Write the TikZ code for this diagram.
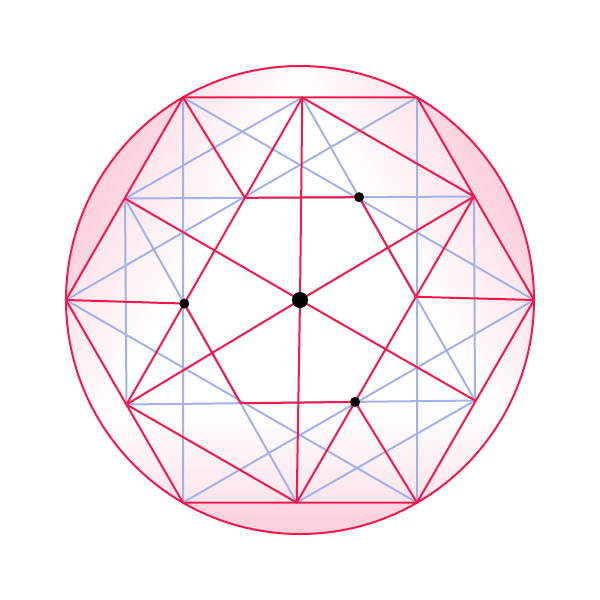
\documentclass[tikz,border=0pt]{standalone}
\definecolor{redc}{RGB}{245,25,75}
\definecolor{bluec}{RGB}{162,178,235}
\definecolor{pinkc}{RGB}{240,40,100}
\tikzset{
  redline/.style={draw=redc, line width=2pt, line cap=round, line join=round},
  blueline/.style={draw=bluec, line width=2pt, line cap=round},
  bigdot/.style={circle, fill=black, inner sep=0pt, minimum size=16pt},
  smalldot/.style={circle, fill=black, inner sep=0pt, minimum size=10pt},
  band/.style={fill=pinkc, opacity=0.0085},
  capfill/.style={fill=pinkc, opacity=0.065},
}
\begin{document}
\begin{tikzpicture}[x=1pt,y=-1pt]
\useasboundingbox (0,0) rectangle (600,600);
% centre and outer hexagon
\coordinate (C) at (300,300);
\coordinate (V0) at (534,300);
\coordinate (V1) at (417,97.4);
\coordinate (V2) at (183,97.4);
\coordinate (V3) at (66,300);
\coordinate (V4) at (183,502.6);
\coordinate (V5) at (417,502.6);
% points on the hexagon sides
\coordinate (M0) at (302.3,97.5);
\coordinate (M1) at (474,196.5);
\coordinate (M2) at (475,400.5);
\coordinate (M3) at (296.7,502.6);
\coordinate (M4) at (126.5,404.5);
\coordinate (M5) at (125,198.5);
% inner hexagon
\coordinate (I0) at (intersection of M5--M1 and M0--M4);
\coordinate (I1) at (intersection of M5--M1 and M0--M2);
\coordinate (I2) at (intersection of M0--M2 and M1--M3);
\coordinate (I3) at (intersection of M1--M3 and M4--M2);
\coordinate (I4) at (intersection of M4--M2 and M5--M3);
\coordinate (I5) at (intersection of M5--M3 and M0--M4);
% shading
\begin{scope}
  \clip (C) circle[radius=234pt];
  \foreach \a in {150,30,-90}{
    \begin{scope}[shift={(C)}, rotate=\a]
      \foreach \k in {0,...,19}{
        \fill[band] ({110+6.2*\k},-300) rectangle (300,300);
      }
      \fill[capfill] (202.6,-300) rectangle (300,300);
    \end{scope}
  }
\end{scope}
% blue lines
\draw[blueline] (V0) -- (V2) -- (V4) -- cycle;
\draw[blueline] (V1) -- (V3) -- (V5) -- cycle;
\draw[blueline] (M5) -- (M0) -- (M2) -- (M3) -- cycle;
\draw[blueline] (M5) -- (M1) -- (M2) -- (M4) -- cycle;
% red lines
\draw[redline] (V0) -- (V1) -- (V2) -- (V3) -- (V4) -- (V5) -- cycle;
\draw[redline] (M0) -- (M1) -- (M3) -- (M4) -- cycle;
\foreach \m in {M0,M1,M2,M3,M4,M5}{\draw[redline] (C) -- (\m);}
\draw[redline] (I0) -- (I1) -- (I2);
\draw[redline] (I3) -- (I4) -- (I5);
\draw[redline] (V2) -- (I0);
\draw[redline] (V0) -- (I2);
\draw[redline] (V5) -- (I3);
\draw[redline] (V3) -- (I5);
% circle
\draw[redline] (C) circle[radius=234pt];
% dots
\node[bigdot] (dC) at (C) {};
\node[smalldot] (d1) at (I1) {};
\node[smalldot] (d3) at (I3) {};
\node[smalldot] (d5) at (I5) {};
\end{tikzpicture}
\end{document}
